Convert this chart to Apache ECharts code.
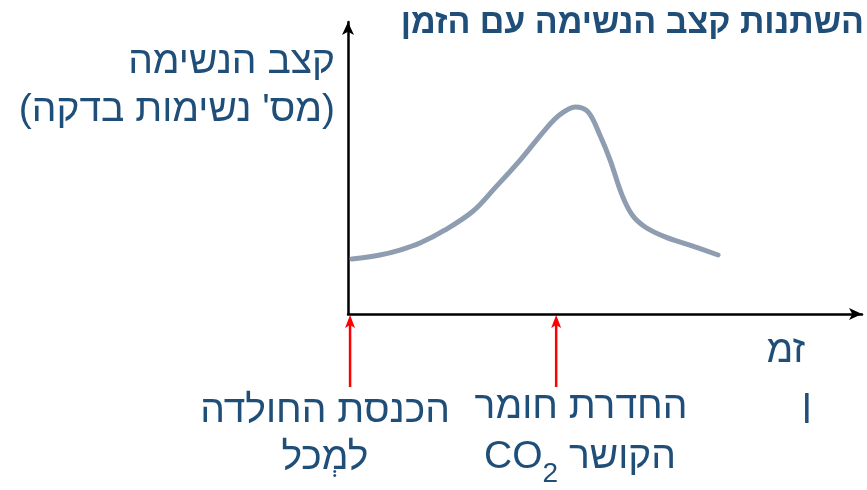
<!DOCTYPE html>
<html><head><meta charset="utf-8">
<script src="https://cdn.jsdelivr.net/npm/echarts@6/dist/echarts.min.js"></script>
<style>html,body{margin:0;padding:0;background:#fff}#c{width:867px;height:490px}</style>
</head><body><div id="c"></div>
<script>
const timeValues = [0.8, 6.2, 10.1, 14.0, 18.9, 24.3, 28.6, 33.5, 38.3, 41.2, 44.2, 46.7, 49.0, 51.0, 53.3, 55.3, 57.8, 61.7, 66.5, 72.0];
const rateValues = [18.8, 20.2, 21.9, 24.3, 28.8, 35.2, 43.2, 52.7, 63.0, 68.2, 70.9, 69.2, 61.3, 52.7, 40.8, 33.9, 29.8, 26.4, 23.6, 20.2];
const eventTimes = [0.4, 40.5];
const titleText = 'השתנות קצב הנשימה עם הזמן';
const yLabel = 'קצב הנשימה\n(מס\' נשימות בדקה)';
const event1Label = 'הכנסת החולדה\nלמְכל';
const event2Line1 = 'החדרת חומר';
const event2Line2 = 'הקושר';

const FONT = '"Liberation Sans", Arial, sans-serif';
const TXT = '#1f4e79';
const FS = 39;
const chart = echarts.init(document.getElementById('c'));
const lineData = timeValues.map((t, i) => [t, rateValues[i]]);

const textGraphics = [
  { type: 'text', x: 335, y: 38, style: { text: yLabel, textAlign: 'right', font: FS + 'px ' + FONT, fill: TXT, lineHeight: 48 } },
  { type: 'text', x: 325, y: 388, style: { text: event1Label, textAlign: 'center', font: FS + 'px ' + FONT, fill: TXT, lineHeight: 47 } },
  { type: 'text', x: 581, y: 388, style: { text: event2Line1, textAlign: 'center', font: FS + 'px ' + FONT, fill: TXT } },
  { type: 'text', x: 580, y: 432, style: {
      text: '{a|CO}{s|2}{a| ' + event2Line2 + '}', textAlign: 'center',
      rich: { a: { fontFamily: FONT, fontSize: FS, fill: TXT, color: TXT, lineHeight: 50 },
              s: { fontFamily: FONT, fontSize: 28, fill: TXT, color: TXT, padding: [34, 0, 0, 0], lineHeight: 50 } } } },
  { type: 'text', x: 805, y: 332, style: { text: 'זמ', textAlign: 'right', font: FS + 'px ' + FONT, fill: TXT } },
  { type: 'text', x: 812, y: 386, style: { text: 'ן', textAlign: 'right', font: FS + 'px ' + FONT, fill: TXT } }
];

chart.setOption({
  animation: false,
  backgroundColor: '#fff',
  title: {
    text: titleText, right: -2, top: 2,
    textStyle: { fontFamily: FONT, fontSize: 34, fontWeight: 'bold', color: TXT }
  },
  grid: { left: 348, right: 5, top: 22, bottom: 176 },
  xAxis: {
    type: 'value', min: 0, max: 100,
    axisLine: { lineStyle: { color: '#000', width: 2.5 }, symbol: ['none', 'arrow'], symbolSize: [9, 13] },
    axisTick: { show: false }, axisLabel: { show: false }, splitLine: { show: false }
  },
  yAxis: {
    type: 'value', min: 0, max: 100,
    axisLine: { show: true, lineStyle: { color: '#000', width: 2.5 }, symbol: ['none', 'arrow'], symbolSize: [9, 13] },
    axisTick: { show: false }, axisLabel: { show: false }, splitLine: { show: false }
  },
  series: [{
    type: 'line', data: lineData, smooth: 0.35, symbol: 'none', clip: false,
    lineStyle: { color: '#8e9db0', width: 5, cap: 'round' }
  }],
  graphic: textGraphics
});

// red event arrows placed through the chart's own x scale
const arrowGraphics = eventTimes.map(t => {
  const p = chart.convertToPixel({ gridIndex: 0 }, [t, 0]);
  const x = p[0], tip = p[1] + 1;
  return {
    type: 'group', children: [
      { type: 'line', shape: { x1: x, y1: tip + 72, x2: x, y2: tip + 8 }, style: { stroke: '#ff0000', lineWidth: 2.5 } },
      { type: 'polygon', shape: { points: [[x, tip], [x - 5, tip + 13], [x, tip + 10], [x + 5, tip + 13]] }, style: { fill: '#ff0000' } }
    ]
  };
});
chart.setOption({ graphic: textGraphics.concat(arrowGraphics) });
</script></body></html>
